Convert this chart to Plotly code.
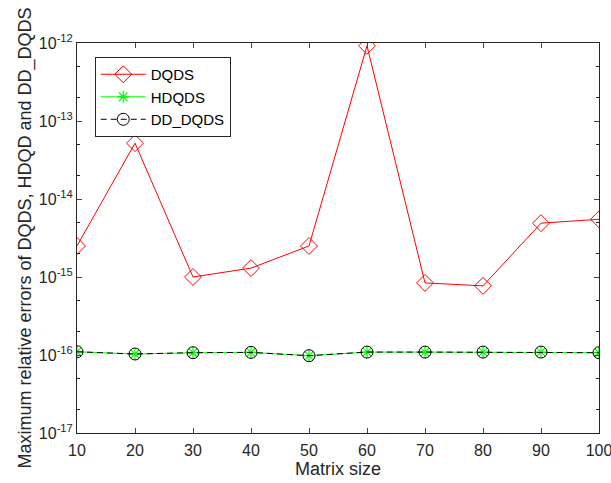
import plotly.graph_objects as go

sizes = [10, 20, 30, 40, 50, 60, 70, 80, 90, 100]
dqds = [2.5e-15, 5.2e-14, 1.0e-15, 1.3e-15, 2.5e-15, 9.2e-13, 8.4e-16, 7.7e-16, 4.9e-15, 5.5e-15]
hdqds = [1.10e-16, 1.03e-16, 1.07e-16, 1.08e-16, 9.8e-17, 1.09e-16, 1.09e-16, 1.09e-16, 1.09e-16, 1.07e-16]
dd_dqds = [1.10e-16, 1.03e-16, 1.07e-16, 1.08e-16, 9.8e-17, 1.09e-16, 1.09e-16, 1.09e-16, 1.09e-16, 1.07e-16]
ytick_exps = [-17, -16, -15, -14, -13, -12]
xticks = [10, 20, 30, 40, 50, 60, 70, 80, 90, 100]

fig = go.Figure()
fig.add_trace(go.Scatter(x=sizes, y=dqds, name="DQDS", mode="lines+markers",
                         line=dict(color="#ff0000", width=1),
                         marker=dict(symbol="diamond-open", size=13, color="#ff0000", line=dict(width=1))))
fig.add_trace(go.Scatter(x=sizes, y=hdqds, name="HDQDS", mode="lines+markers",
                         line=dict(color="#00ff00", width=1),
                         marker=dict(symbol="asterisk-open", size=10, color="#00ff00", line=dict(width=1.2, color="#00ff00"))))
fig.add_trace(go.Scatter(x=sizes, y=dd_dqds, name="DD_DQDS", mode="lines+markers",
                         line=dict(color="#000000", width=1, dash="6px,4px"),
                         marker=dict(symbol="circle-open", size=12, color="#000000", line=dict(width=1))))

fig.update_layout(
    width=611, height=483,
    margin=dict(l=77, r=12, t=43, b=50, autoexpand=False),
    paper_bgcolor="white", plot_bgcolor="white",
    font=dict(family="Liberation Sans, Arial, sans-serif", size=16, color="#262626"),
    showlegend=True,
    legend=dict(x=0.034, y=0.964, xanchor="left", yanchor="top",
                bgcolor="white", bordercolor="#262626", borderwidth=1,
                font=dict(size=15, color="#000000"), tracegroupgap=0,
                itemwidth=45),
)
fig.update_xaxes(range=[10, 100], tickvals=xticks, ticks="inside", ticklen=5,
                 showline=True, linecolor="#262626", linewidth=1, mirror="allticks",
                 showgrid=False, zeroline=False, ticklabeloverflow="allow",
                 ticklabelstandoff=3,
                 title=dict(text="Matrix size", font=dict(size=18), standoff=3),
                 tickfont=dict(size=16))
fig.update_yaxes(type="log", range=[-17, -12],
                 tickvals=[10**e for e in ytick_exps],
                 ticktext=["10<sup>%d</sup>" % e for e in ytick_exps],
                 ticks="inside", ticklen=5,
                 minor=dict(ticks="inside", ticklen=3, tickcolor="#262626", showgrid=False),
                 showline=True, linecolor="#262626", linewidth=1, mirror="allticks",
                 showgrid=False, zeroline=False,
                 title=dict(text="Maximum relative errors of DQDS, HDQD and DD_DQDS", font=dict(size=18), standoff=2),
                 tickfont=dict(size=16))

fig.write_html("out.html")
